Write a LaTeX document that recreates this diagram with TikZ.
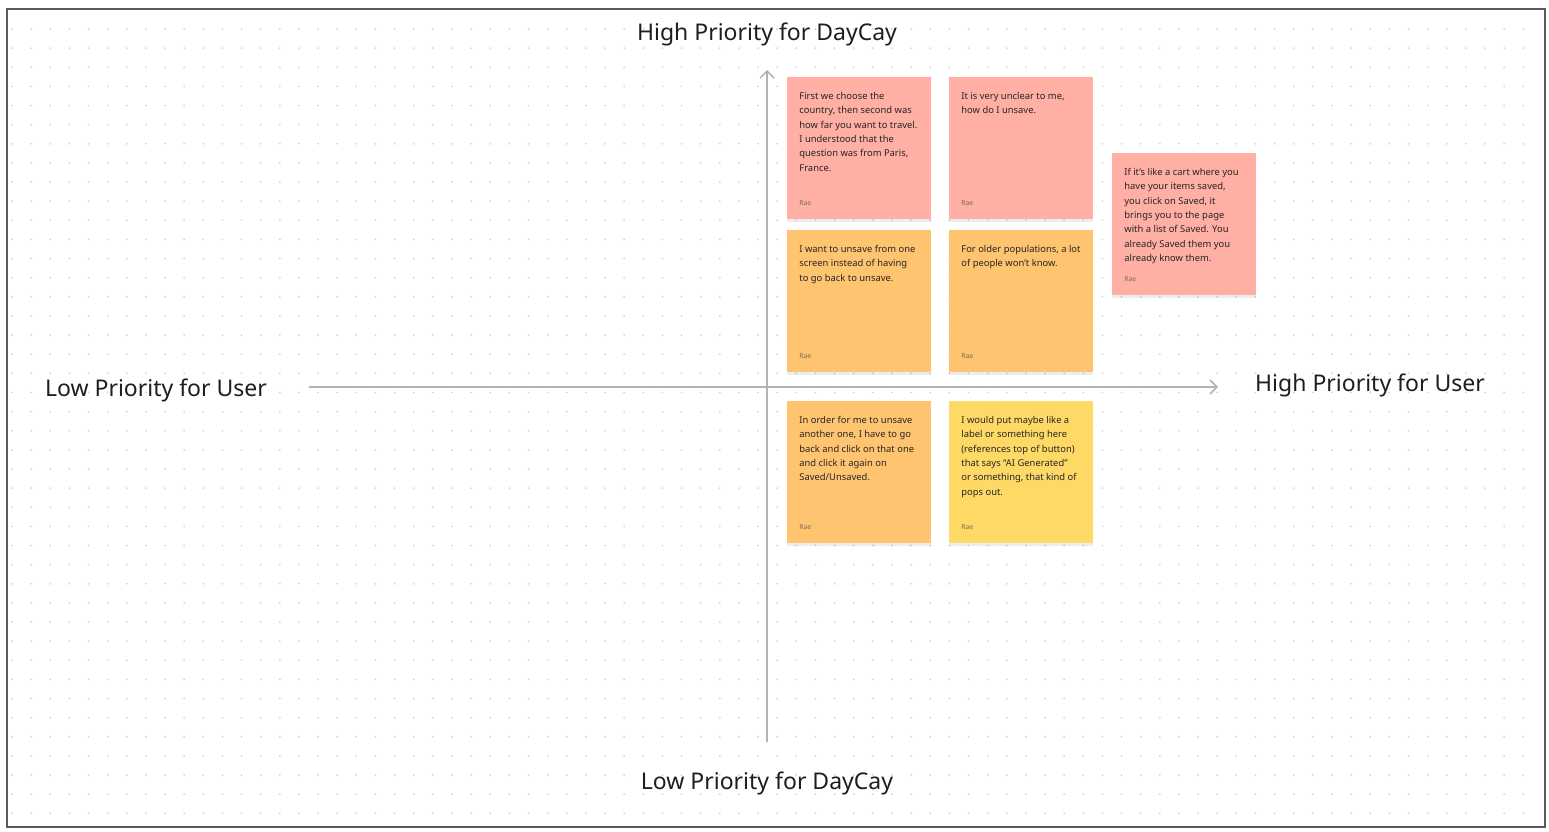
\documentclass[tikz,border=0pt]{standalone}
\usepackage{fontspec}
\setmainfont{Noto Sans}
\usetikzlibrary{arrows.meta,shadows}
\definecolor{notepink}{HTML}{FFAFA3}
\definecolor{noteorange}{HTML}{FFC470}
\definecolor{noteyellow}{HTML}{FFD966}
\definecolor{axisgray}{HTML}{B3B3B3}
\definecolor{dotgray}{HTML}{D2D2D2}
\definecolor{framegray}{HTML}{5A5A5A}
\definecolor{inkgray}{HTML}{262626}
\definecolor{raegray}{HTML}{7A6A60}
\definecolor{labelblack}{HTML}{1E1E1E}
\tikzset{
  note/.style={rectangle, anchor=north west, inner sep=0pt, minimum width=72pt, minimum height=71pt,
    drop shadow={shadow xshift=0pt, shadow yshift=-1.2pt, opacity=0.07, fill=black}},
  notetext/.style={anchor=north west, align=left, inner sep=0pt, text=inkgray,
    font=\fontsize{4.7pt}{7.15pt}\selectfont},
  signed/.style={anchor=base west, inner sep=0pt, text=raegray, font=\fontsize{3.4pt}{4pt}\selectfont},
  axislabel/.style={inner sep=0pt, text=labelblack, font=\fontsize{11.5pt}{13pt}\selectfont},
  axis/.style={draw=axisgray, line width=0.75pt, -{Straight Barb[length=3.5pt,width=7pt]}}
}
\begin{document}
\begin{tikzpicture}[x=0.5pt,y=-0.5pt]
\useasboundingbox (0,0) rectangle (1549,831);
\fill[white] (0,0) rectangle (1549,831);
\foreach \i in {0,...,79}
  \foreach \j in {0,...,41}
    \fill[dotgray] (12+19.13*\i,29+19.13*\j) circle (0.5pt);
\draw[framegray, line width=1pt] (7,9) rectangle (1545,827);

\coordinate (ybot) at (767,742);
\coordinate (ytop) at (767,70);
\coordinate (xleft) at (309,387);
\coordinate (xright) at (1218,387);
\draw[axis] (ybot) -- (ytop);
\draw[axis] (xleft) -- (xright);

\node[axislabel] (daycayhigh) at (767,34) {High Priority for DayCay};
\node[axislabel] (daycaylow) at (767,783) {Low Priority for DayCay};
\node[axislabel] (userlow) at (156,390) {Low Priority for User};
\node[axislabel] (userhigh) at (1370,385) {High Priority for User};

\node[note, fill=notepink] (n1) at (787,77) {};
\node[note, fill=notepink] (n2) at (949,77) {};
\node[note, fill=noteorange] (n3) at (787,230) {};
\node[note, fill=noteorange] (n4) at (949,230) {};
\node[note, fill=noteorange] (n5) at (787,401) {};
\node[note, fill=noteyellow] (n6) at (949,401) {};
\node[note, fill=notepink] (n7) at (1112,153) {};

\node[notetext] (t1) at ([shift={(12,15)}]n1.north west) {First we choose the\\country, then second was\\how far you want to travel.\\I understood that the\\question was from Paris,\\France.};
\node[notetext] (t2) at ([shift={(12,15)}]n2.north west) {It is very unclear to me,\\how do I unsave.};
\node[notetext] (t3) at ([shift={(12,15)}]n3.north west) {I want to unsave from one\\screen instead of having\\to go back to unsave.};
\node[notetext] (t4) at ([shift={(12,15)}]n4.north west) {For older populations, a lot\\of people won’t know.};
\node[notetext] (t5) at ([shift={(12,15)}]n5.north west) {In order for me to unsave\\another one, I have to go\\back and click on that one\\and click it again on\\Saved/Unsaved.};
\node[notetext] (t6) at ([shift={(12,15)}]n6.north west) {I would put maybe like a\\label or something here\\(references top of button)\\that says “AI Generated”\\or something, that kind of\\pops out.};
\node[notetext] (t7) at ([shift={(12,15)}]n7.north west) {If it’s like a cart where you\\have your items saved,\\you click on Saved, it\\brings you to the page\\with a list of Saved. You\\already Saved them you\\already know them.};

\foreach \n in {n1,n2,n3,n4,n5,n6,n7}
  \node[signed] (rae\n) at ([shift={(12,-14)}]\n.south west) {Rae};
\end{tikzpicture}
\end{document}
